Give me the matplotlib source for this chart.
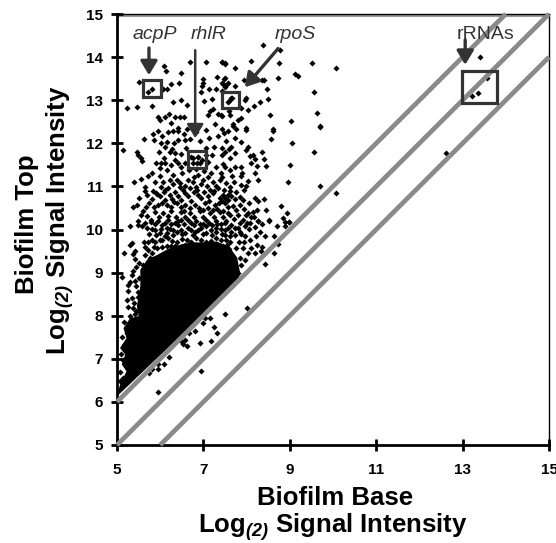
import numpy as np
import matplotlib as mpl
mpl.use('Agg')
import matplotlib.pyplot as plt
from matplotlib.patches import Rectangle

# log2 (base, top), region by region
top_left = [(6.09,13.80),(6.13,13.68),(6.69,13.88),(7.07,13.88),(7.43,13.88),(7.49,13.86),(6.47,13.63),(5.51,13.42),
    (5.80,13.25),(5.71,13.18),(6.07,13.25),(6.16,13.25),(6.24,13.38),(6.43,13.40),(5.22,12.81),(5.46,12.85),(5.82,12.86),
    (6.30,12.96),(6.49,13.00),(6.63,12.89),(6.99,13.49),(6.99,13.40),(6.96,13.32),(7.12,13.26),(7.29,13.26),(6.94,13.18),
    (7.02,12.99),(7.19,13.03),(7.32,13.54),(7.47,13.50),(7.44,13.40),(7.53,13.36),(7.42,13.21),(7.15,12.76),(7.22,12.80),
    (7.11,12.65),(7.34,12.67),(5.94,12.61),(5.99,12.54),(6.11,12.61),(6.21,12.68),(6.34,12.61),(6.46,12.61),(6.55,12.61),
    (6.26,12.48),(6.42,12.36),(7.42,12.63)]
top_right = [(8.39,14.28),(8.77,14.16),(7.44,13.88),(7.49,13.84),(8.10,13.91),(7.74,13.75),(8.74,13.86),(9.52,13.86),
    (10.08,13.75),(9.13,13.61),(9.19,13.57),(8.73,13.52),(7.49,13.52),(7.93,13.46),(8.36,13.46),(8.41,13.46),(7.46,13.38),
    (7.57,13.40),(7.50,13.31),(7.74,13.32),(8.47,13.25),(9.56,13.18),(7.98,13.05),(7.96,13.01),(8.50,13.03),(8.32,12.96),
    (8.18,12.86),(8.04,12.78),(7.88,12.81),(7.63,13.05),(7.60,12.98),(7.59,12.75),(7.61,12.65),(7.40,12.65),(8.55,12.65),
    (9.63,12.71),(9.03,12.51),(7.86,12.59),(7.80,12.54),(7.69,12.44),(9.69,12.39),(8.61,12.34),(7.98,12.35),(7.76,12.34)]
mid_left = [(5.94,12.29),(5.84,12.21),(5.62,12.11),(5.86,12.07),(6.19,12.27),(6.30,12.29),(6.42,12.29),(6.55,12.21),
    (6.69,12.11),(6.57,12.07),(6.42,12.07),(6.32,12.00),(6.15,12.04),(6.03,12.00),(5.13,11.84),(5.46,11.80),(5.48,11.74),
    (5.97,11.80),(6.28,11.87),(6.22,11.80),(6.34,11.77),(6.49,11.75),(5.55,11.65),(5.59,11.60),(6.09,11.65),(6.03,11.54),
    (6.12,11.54),(5.90,11.54),(6.34,11.61),(6.42,11.54),(6.48,11.46),(6.72,11.69),(6.88,11.69),(6.76,11.54),(6.92,11.54),
    (7.11,11.57),(7.29,11.46),(7.46,11.51),(5.82,11.32),(5.99,11.25),(6.15,11.38),(6.30,11.27),(5.56,11.17),(5.39,11.10),
    (5.65,10.99),(6.22,11.15),(6.38,11.15),(6.46,11.07),(6.65,11.15),(6.82,10.99),(6.88,11.27),(6.99,11.15),(7.22,11.11),
    (7.38,11.15),(7.53,11.07),(5.88,11.11),(6.03,10.99),(6.19,10.96),(5.65,10.90),(5.84,10.90),(6.34,10.88),(6.53,10.92),
    (6.69,10.96),(7.15,10.92),(7.34,10.96),(5.52,10.73),(5.80,10.71),(5.99,10.77),(6.22,10.80),(6.42,10.77),(6.65,10.77),
    (6.88,10.80),(7.11,10.77),(7.46,10.80),(5.46,10.57),(5.38,10.52),(5.75,10.61),(5.96,10.57),(6.15,10.57),(6.38,10.61),
    (6.57,10.57),(6.80,10.57),(7.03,10.61),(7.26,10.57),(7.49,10.61),(5.61,10.43),(5.55,10.34),(5.88,10.40),(6.07,10.38),
    (6.26,10.42),(6.49,10.40),(6.69,10.38),(6.92,10.42),(7.15,10.38),(7.38,10.40),(7.57,10.38),(5.49,10.20),(5.78,10.23),
    (5.96,10.19),(6.19,10.23),(6.42,10.19),(6.65,10.23),(6.84,10.19),(7.07,10.23),(7.30,10.20),(7.53,10.20)]
mid_right = [(7.98,12.31),(7.69,12.40),(7.57,12.28),(7.47,12.23),(7.42,12.34),(8.61,12.29),(8.57,12.10),(9.69,12.37),
    (9.04,12.00),(9.55,11.80),(8.03,11.92),(7.98,11.84),(8.36,11.80),(7.65,11.92),(7.59,11.86),(7.42,11.88),(7.73,11.77),
    (7.61,11.65),(7.51,11.79),(8.07,11.71),(8.15,11.73),(8.20,11.64),(8.40,11.63),(8.10,11.54),(8.23,11.48),(8.46,11.48),
    (9.01,11.50),(7.86,11.46),(7.50,11.46),(7.61,11.38),(7.90,11.30),(7.86,11.23),(8.20,11.32),(7.67,11.23),(7.70,11.11),
    (8.03,11.13),(8.26,11.14),(8.96,11.10),(7.86,11.04),(7.98,11.00),(7.93,10.92),(7.61,10.98),(9.69,11.02),(10.06,10.84),
    (7.57,10.80),(7.65,10.77),(7.50,10.73),(7.84,10.75),(8.19,10.74),(8.26,10.67),(8.40,10.70),(7.42,10.65),(7.84,10.57),
    (7.69,10.54),(8.80,10.54),(8.46,10.46),(8.24,10.46),(8.15,10.40),(8.03,10.38),(8.94,10.38),(7.46,10.42),(7.61,10.33),
    (7.80,10.34),(7.98,10.33),(8.11,10.30),(8.51,10.21),(8.26,10.19),(8.84,10.27),(8.88,10.17),(8.99,10.17),(7.50,10.15),
    (7.84,10.15),(8.07,10.15)]
low_left = [(5.30,10.09),(5.49,10.10),(5.59,10.09),(5.78,10.18),(5.70,10.03),(5.88,9.99),(5.99,9.91),(6.15,10.03),
    (6.30,9.99),(6.42,10.10),(6.65,10.03),(6.88,9.99),(7.07,10.07),(7.30,10.03),(7.49,9.99),(5.34,9.68),(5.29,9.63),
    (5.63,9.72),(5.80,9.76),(5.42,9.49),(5.36,9.44),(5.17,9.45),(5.42,9.32),(5.65,9.60),(5.72,9.53),(5.65,9.41),(5.80,9.45),
    (5.76,9.34),(5.92,9.57),(5.99,9.76),(6.19,9.80),(6.38,9.72),(6.61,9.76),(6.84,9.80),(7.07,9.72),(7.30,9.80),(7.53,9.76),
    (5.38,9.03),(5.34,8.95),(5.12,8.89),(5.26,8.72),(5.42,8.80),(5.26,8.57),(5.52,8.87),(5.34,8.41),(5.22,8.37),(5.49,8.44),
    (5.26,8.20),(5.38,8.18),(5.30,7.99),(5.42,8.03),
    (6.05,9.60),(6.25,9.62),(6.45,9.58),(6.70,9.60),(6.95,9.62),(7.20,9.60),(7.45,9.62),(7.60,9.55),(6.10,9.85),(6.30,9.88),
    (6.50,9.90),(6.75,9.88),(6.98,9.90),(7.20,9.88),(7.42,9.90),(7.62,9.85),(6.05,10.10),(6.25,10.12),(6.55,10.12),
    (6.78,10.10),(7.00,10.12),(7.20,10.10),(7.40,10.12),(7.65,10.10)]
low_right = [(8.70,10.09),(8.88,10.07),(8.99,10.18),(8.51,10.20),(8.36,10.13),(8.26,10.20),(8.01,10.14),(7.96,10.07),
    (8.19,10.05),(8.30,9.94),(8.43,9.86),(8.63,9.86),(8.21,9.86),(8.09,9.76),(7.96,9.84),(7.84,9.95),(7.73,10.03),(8.73,9.67),
    (8.36,9.60),(8.23,9.64),(8.11,9.57),(8.63,9.45),(8.42,9.20),(8.34,9.49),(8.19,9.45),(8.03,9.45),(7.92,9.57),(7.96,9.30),
    (7.84,9.34),(7.88,9.18),(7.80,8.99),(8.02,8.19),(7.50,8.04)]
below_line = [(7.03,7.94),(7.15,7.94),(6.98,7.83),(7.24,7.73),(7.32,7.60),(6.80,7.64),(6.67,7.60),(6.49,7.42),(6.57,7.44),
    (6.53,7.34),(6.62,7.30),(6.93,7.37),(7.18,7.42),(6.21,7.04),(6.09,6.87),(5.94,6.87),(5.94,6.77),(5.82,6.77),(5.75,6.66),
    (6.95,6.71),(5.96,6.24)]
boxed = [(7.66,13.05),(7.57,12.96),(6.76,11.66),(6.88,11.68),(6.85,11.54),(6.97,11.61),
    (13.40,14.00),(13.56,13.51),(13.36,13.17),(13.22,13.10),(12.62,11.77)]
# denser fill of the crowded upper part, estimated by eye
crowd_high = [(6.05,12.18),(6.62,12.33),(6.80,12.42),(7.05,12.30),(7.28,12.45),(7.33,12.18),(7.13,12.12),(6.92,12.06),
    (6.84,12.27),(7.52,12.05),(7.72,12.12),(7.87,12.02),(7.25,11.92),(7.05,11.88),(7.44,11.72),(7.20,11.74),(6.60,11.88),
    (6.12,11.92),(6.66,11.38),(6.82,11.40),(7.02,11.36),(7.18,11.30),(7.40,11.32),(7.07,11.72),(6.58,11.55),(6.24,11.50),
    (6.00,11.42),(5.72,11.25),(6.50,11.30),(6.78,11.22),(7.10,11.22),(7.30,11.00),(7.42,11.22),(7.72,11.44),(6.07,11.10),
    (6.30,11.05),(6.58,11.02),(6.95,11.05),(6.75,11.10),(7.08,11.00),(7.48,10.92),(7.76,10.88),(7.62,10.90),
    (6.10,10.92),(6.45,10.98),(6.86,10.92),(7.24,10.90),(5.92,10.82),(6.32,10.64),(6.72,10.66),(7.14,10.66),(7.36,10.62),
    (6.12,10.68),(6.55,10.44),(6.98,10.46),(7.22,10.46)]
crowd_mid = [(5.70,10.80),(5.90,10.85),(6.08,10.88),(6.28,10.70),(6.48,10.68),(6.58,10.84),(6.78,10.86),(6.95,10.72),
    (7.02,10.86),(7.22,10.84),(7.38,10.72),(7.58,10.68),(7.72,10.70),(7.92,10.68),(8.05,10.62),(5.68,10.52),(5.85,10.52),
    (6.05,10.62),(6.25,10.52),(6.48,10.52),(6.68,10.50),(6.90,10.50),(7.10,10.50),(7.32,10.48),(7.56,10.52),(7.76,10.46),
    (7.95,10.48),(5.70,10.32),(5.98,10.30),(6.18,10.32),(6.36,10.30),(6.58,10.30),(6.78,10.30),(7.00,10.30),(7.25,10.30),
    (7.45,10.30),(7.70,10.25),(7.92,10.22),(8.18,10.28),(5.65,10.15),(5.88,10.12),(6.12,10.14),(6.34,10.14),(6.48,10.22),
    (6.72,10.14),(6.92,10.12),(7.12,10.16),(7.32,10.12),(7.58,10.04),(7.80,10.04),(5.82,10.02),(6.02,10.02),(6.22,10.02),
    (6.48,10.00),(6.72,10.00),(6.95,10.04),(7.18,10.00),(7.40,10.02),(7.65,9.95),(7.88,9.90),(8.05,10.02),(5.75,9.90),
    (5.90,9.88),(6.15,9.92),(6.38,9.94),(6.58,9.92),(6.80,9.94),(7.05,9.92),(7.30,9.94),(7.50,9.88),(7.72,9.88),(7.95,9.72),
    (5.72,9.72),(5.88,9.72),(6.05,9.75),(6.28,9.74),(6.50,9.78),(6.72,9.72),(6.95,9.76),(7.18,9.74),(7.40,9.76),(7.62,9.72),
    (7.82,9.72),(5.85,9.60),(6.15,9.62),(6.35,9.62),(6.58,9.64),(6.82,9.65),(7.08,9.64),(7.32,9.66),(7.55,9.64),(7.75,9.58)]
left_fringe = [(5.45,8.70),(5.48,8.55),(5.40,8.30),(5.44,8.12),(5.34,7.86),(5.28,7.72),(5.22,7.60),(5.16,7.85),(5.12,7.50),
    (5.18,7.34),(5.10,7.12),(5.14,6.98),(5.08,6.70),(5.15,6.55),(5.06,6.48),(5.30,8.78),(5.44,9.12),(5.52,9.22),(5.60,9.18)]

# outline of the part where the spots merge into solid black
dense_base = [5.00,5.07,5.22,5.11,5.19,5.07,5.22,5.15,5.30,5.50,5.46,5.54,5.54,5.70,5.95,6.18,6.50,6.76,6.99,7.30,7.60,7.78,7.85,7.80]
dense_top = [6.13,6.40,6.71,6.87,7.10,7.25,7.48,7.71,7.94,7.99,8.22,8.68,9.07,9.30,9.42,9.55,9.66,9.70,9.70,9.72,9.60,9.35,9.00,8.80]

fold_offsets = [1, 0, -1]
ticks_x = [5, 7, 9, 11, 13, 15]
ticks_y = [5, 6, 7, 8, 9, 10, 11, 12, 13, 14, 15]

gene_names = ['acpP', 'rhlR', 'rpoS']
gene_boxes = [(5.60, 13.07, 0.42, 0.40), (6.64, 11.43, 0.42, 0.39), (7.43, 12.82, 0.39, 0.37)]
rrna_box = (12.99, 12.93, 0.81, 0.75)

plt.rcParams['font.family'] = ['Liberation Sans', 'DejaVu Sans']
plt.rcParams['mathtext.fontset'] = 'custom'
plt.rcParams['mathtext.bf'] = 'Liberation Sans:italic:bold'
plt.rcParams['mathtext.rm'] = 'Liberation Sans:bold'

fig = plt.figure(figsize=(5.56, 5.43), dpi=100)
ax = fig.add_axes([117/556, 1-445/543, 432/556, 431/543])

pts = np.array(top_left + top_right + mid_left + mid_right + low_left + low_right + below_line + boxed
               + crowd_high + crowd_mid + left_fringe)
ax.plot(pts[:, 0], pts[:, 1], 'D', color='black', ms=3.1, mew=0, zorder=2)
ax.fill(dense_base, dense_top, color='black', lw=0, zorder=2)

for off in fold_offsets:
    x0 = max(5, 5 - off)
    x1 = min(15, 15 - off)
    ax.plot([x0, x1], [x0 + off, x1 + off], color='#8a8a8a', lw=3.4, solid_capstyle='butt', clip_on=False, zorder=3)
ax.axhline(14.96, color='#999999', lw=1.5, zorder=1)

for b in gene_boxes + [rrna_box]:
    ax.add_patch(Rectangle(b[:2], b[2], b[3], fill=False, ec='#333333', lw=2.3, zorder=4))

arrow = dict(arrowstyle='-|>,head_width=0.36,head_length=0.6', color='#333333', lw=2.4, shrinkA=0, shrinkB=0, mutation_scale=14)
thin_arrow = dict(arrow, lw=1.8)
ax.annotate('', xy=(5.74, 13.58), xytext=(5.74, 14.21), arrowprops=arrow, zorder=5)
ax.annotate('', xy=(6.81, 12.12), xytext=(6.81, 14.16), arrowprops=thin_arrow, zorder=5)
ax.annotate('', xy=(7.96, 13.30), xytext=(8.73, 14.20), arrowprops=arrow, zorder=5)
ax.annotate('', xy=(13.06, 13.82), xytext=(13.06, 14.40), arrowprops=arrow, zorder=5)

for name, xt in zip(gene_names, [5.88, 7.13, 9.12]):
    ax.text(xt, 14.52, name, style='italic', fontsize=14, color='#333333', ha='center', va='center', zorder=5)
ax.text(13.52, 14.52, 'rRNAs', fontsize=14, color='#333333', ha='center', va='center', zorder=5)

ax.set_xlim(5, 15)
ax.set_ylim(5, 15)
ax.set_xticks(ticks_x)
ax.set_yticks(ticks_y)
ax.tick_params(direction='inout', length=8, width=2, labelsize=11)
ax.tick_params(axis='x', pad=9)
ax.tick_params(axis='y', pad=6)
for lab in ax.get_xticklabels() + ax.get_yticklabels():
    lab.set_fontweight('bold')
for s in ['left', 'bottom']:
    ax.spines[s].set_linewidth(2)
for s in ['top', 'right']:
    ax.spines[s].set_linewidth(1)

sub = r'Log$_{\mathbf{(2)}}$ Signal Intensity'
fig.text(335/556, 1-498/543, 'Biofilm Base', fontsize=18.5, fontweight='bold', ha='center', va='center')
fig.text(333/556, 1-527/543, sub, fontsize=18.5, fontweight='bold', ha='center', va='center')
fig.text(27/556, 1-224/543, 'Biofilm Top', fontsize=18.5, fontweight='bold', ha='center', va='center', rotation=90)
fig.text(60/556, 1-220/543, sub, fontsize=18.5, fontweight='bold', ha='center', va='center', rotation=90)

fig.savefig('out.png', dpi=100)
